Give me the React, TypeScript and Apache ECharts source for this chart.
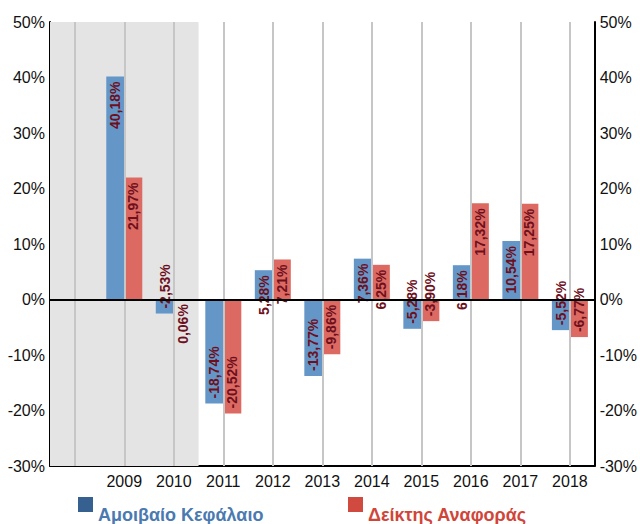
import React, { useEffect, useRef } from "react";
import * as echarts from "echarts";

const categories = ["", "2009", "2010", "2011", "2012", "2013", "2014", "2015", "2016", "2017", "2018"];
const fundValues: (number | null)[] = [null, 40.18, -2.53, -18.74, 5.28, -13.77, 7.36, -5.28, 6.18, 10.54, -5.52];
const indexValues: (number | null)[] = [null, 21.97, 0.06, -20.52, 7.21, -9.86, 6.25, -3.9, 17.32, 17.25, -6.77];
const yTicks = { min: -30, max: 50, interval: 10 };
const shadedCount = 3; // "", 2009, 2010
const seriesNames = ["Αμοιβαίο Κεφάλαιο", "Δείκτης Αναφοράς"];

const FONT = "'Liberation Sans', Arial, sans-serif";
const LABEL_COLOR = "#6e0f1c";
const CHART_H = 600; // taller canvas, clipped to 524 by the wrapper

function fmt(v: number) {
  return v.toFixed(2).replace(".", ",") + "%";
}

function toItems(values: (number | null)[]) {
  return values.map((v) => {
    if (v === null) return { value: null };
    const pos = v >= 0;
    return {
      value: v,
      label: {
        show: true,
        position: pos ? "insideTop" : "insideBottom",
        rotate: 90,
        align: pos ? "right" : "left",
        verticalAlign: "middle",
        distance: 5,
        color: LABEL_COLOR,
        fontWeight: "bold",
        fontSize: 14,
        fontFamily: FONT,
        formatter: () => fmt(v),
      },
    };
  });
}

function legendFor(name: string, iconColor: string, textColor: string, left: number) {
  return {
    data: [{ name, itemStyle: { color: iconColor } }],
    left,
    top: 497,
    padding: 0,
    icon: "rect",
    itemWidth: 15,
    itemHeight: 15,
    formatter: (n: string) => `{t|${n}}`,
    textStyle: {
      color: textColor,
      rich: {
        t: {
          color: textColor,
          fontWeight: "bold",
          fontSize: 18,
          fontFamily: FONT,
          padding: [20, 0, 0, 0],
        },
      },
    },
  };
}

export default function App() {
  const ref = useRef<HTMLDivElement>(null);
  useEffect(() => {
    if (!ref.current) return;
    const chart = echarts.init(ref.current, null, { renderer: "svg" });
    const yAxisCommon = {
      type: "value",
      min: yTicks.min,
      max: yTicks.max,
      interval: yTicks.interval,
      axisLine: { show: true, lineStyle: { color: "#000", width: 2 } },
      axisTick: { show: false },
      splitLine: { show: false },
      axisLabel: {
        formatter: (v: number) => `${v}%`,
        color: "#111",
        fontSize: 16,
        fontFamily: FONT,
        margin: 5,
      },
    };
    chart.setOption({
      animation: false,
      grid: { left: 50, right: 37, top: 22, bottom: CHART_H - 466, containLabel: false },
      legend: [
        legendFor(seriesNames[0], "#35608f", "#4a7ab0", 78),
        legendFor(seriesNames[1], "#d04a3f", "#d0453a", 348),
      ],
      xAxis: [
        {
          type: "category",
          data: categories,
          boundaryGap: true,
          axisLine: { show: true, onZero: false, lineStyle: { color: "#000", width: 2 } },
          axisTick: { show: false },
          splitLine: { show: false },
          axisLabel: { color: "#111", fontSize: 16, fontFamily: FONT, margin: 7, interval: 0 },
        },
        {
          type: "value",
          min: 0,
          max: categories.length,
          show: false,
          splitLine: { show: false },
        },
      ],
      yAxis: [
        { ...yAxisCommon, position: "left" },
        { ...yAxisCommon, position: "right" },
      ],
      series: [
        {
          type: "line",
          xAxisIndex: 1,
          yAxisIndex: 0,
          data: [],
          z: 0,
          silent: true,
          markArea: {
            silent: true,
            itemStyle: { color: "#e4e4e4" },
            data: [[{ xAxis: 0, yAxis: yTicks.max }, { xAxis: shadedCount, yAxis: yTicks.min }]],
          },
          markLine: {
            silent: true,
            symbol: "none",
            label: { show: false },
            lineStyle: { color: "#c6c6c6", width: 2, type: "solid" },
            data: categories.map((_, i) => ({ xAxis: i + 0.5 })),
          },
        },
        {
          name: seriesNames[0],
          type: "bar",
          barWidth: 18,
          barGap: "0%",
          itemStyle: { color: "#6596c8" },
          data: toItems(fundValues),
          z: 2,
        },
        {
          name: seriesNames[1],
          type: "bar",
          barWidth: 18,
          barGap: "0%",
          itemStyle: { color: "#dc6a62" },
          data: toItems(indexValues),
          z: 2,
        },
        {
          type: "line",
          xAxisIndex: 1,
          yAxisIndex: 0,
          data: [],
          z: 3,
          silent: true,
          markLine: {
            silent: true,
            symbol: "none",
            label: { show: false },
            lineStyle: { color: "#000", width: 2, type: "solid" },
            data: [{ yAxis: 0 }],
          },
        },
      ],
    });
    return () => chart.dispose();
  }, []);
  return (
    <div style={{ position: "absolute", left: 0, top: 0, width: 640, height: 524, overflow: "hidden" }}>
      <div ref={ref} style={{ width: 640, height: CHART_H }} />
    </div>
  );
}
